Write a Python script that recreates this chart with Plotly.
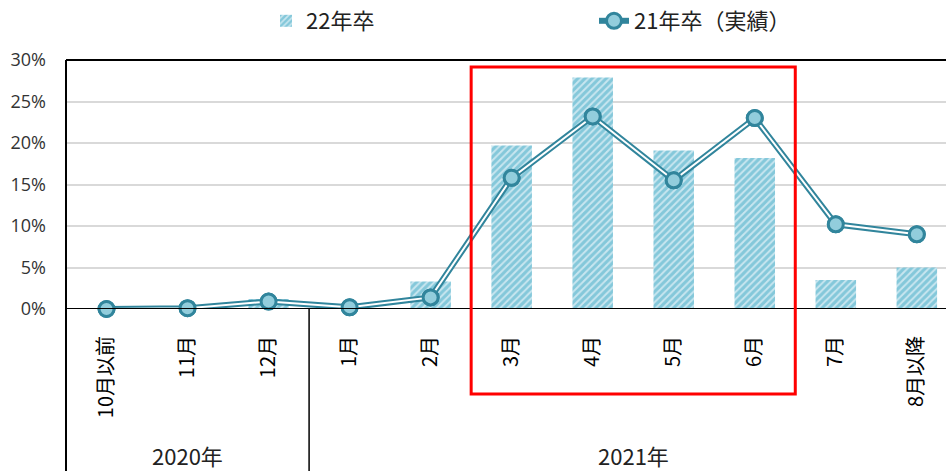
import plotly.graph_objects as go

categories = ["10月以前", "11月", "12月", "1月", "2月", "3月", "4月", "5月", "6月", "7月", "8月以降"]
grad22 = [0.001, 0.0, 0.012, 0.001, 0.033, 0.197, 0.279, 0.191, 0.182, 0.035, 0.050]
grad21 = [0.000, 0.001, 0.009, 0.002, 0.014, 0.158, 0.232, 0.155, 0.230, 0.102, 0.090]
year_labels = ["2020年", "2021年"]
year_centers = [1, 6.5]
highlight = [4.5, 8.5]
year_split = 2.5

TEAL = "#31859C"
FILL = "#92CDDC"
JP = "Noto Sans CJK JP"

fig = go.Figure()
fig.add_trace(go.Bar(
    x=categories, y=grad22, name="22年卒", width=0.5,
    marker=dict(color="#3FA9C5", line=dict(width=0),
                pattern=dict(shape="/", size=5, solidity=0.6,
                             fgcolor="#3FA9C5", bgcolor="#C8E6EF")),
))
fig.add_trace(go.Scatter(
    x=categories, y=grad21, name="21年卒（実績）", mode="lines+markers",
    line=dict(color=TEAL, width=6),
    marker=dict(size=15, color=FILL, line=dict(color=TEAL, width=3)),
    cliponaxis=False,
))
fig.add_trace(go.Scatter(
    x=categories, y=grad21, mode="lines", showlegend=False, hoverinfo="skip",
    line=dict(color="white", width=2), cliponaxis=False,
))
fig.add_trace(go.Scatter(
    x=categories, y=grad21, mode="markers", showlegend=False,
    marker=dict(size=15, color=FILL, line=dict(color=TEAL, width=3)),
    cliponaxis=False,
))

shapes = [
    dict(type="line", xref="paper", yref="paper", x0=0, x1=1, y0=1, y1=1,
         line=dict(color="black", width=2)),
    dict(type="line", xref="paper", yref="paper", x0=0, x1=0, y0=-0.66, y1=1,
         line=dict(color="black", width=2)),
    dict(type="line", xref="paper", yref="y", x0=0, x1=1, y0=0, y1=0,
         line=dict(color="black", width=2)),
    dict(type="line", xref="x", yref="paper", x0=year_split, x1=year_split, y0=-0.66, y1=0,
         line=dict(color="black", width=1.5)),
    dict(type="rect", xref="x", yref="paper", x0=highlight[0], x1=highlight[1],
         y0=(309 - 394) / 249, y1=(309 - 67) / 249,
         line=dict(color="#FF0000", width=3), fillcolor="rgba(0,0,0,0)"),
]

annotations = [
    dict(x=c, y=(309 - 455) / 249, xref="x", yref="paper", text=t, showarrow=False,
         font=dict(family=JP, size=22, color="#222222"), xanchor="center", yanchor="middle")
    for c, t in zip(year_centers, year_labels)
]

fig.update_layout(
    width=946, height=471,
    margin=dict(l=66, r=0, t=60, b=162, autoexpand=False),
    paper_bgcolor="white", plot_bgcolor="white",
    showlegend=True,
    legend=dict(orientation="h", xref="container", yref="container",
                x=266 / 946, y=1.0, xanchor="left", yanchor="top",
                entrywidth=283, entrywidthmode="pixels",
                font=dict(family=JP, size=22, color="#222222"),
                bgcolor="rgba(0,0,0,0)"),
    shapes=shapes,
    annotations=annotations,
    bargap=0.5,
)
fig.update_xaxes(
    type="category", categoryorder="array", categoryarray=categories,
    range=[-0.5, 10.36], showgrid=False, showline=False, zeroline=False,
    tickangle=-90, ticks="", ticklabelstandoff=22, automargin=False,
    tickfont=dict(family=JP, size=20, color="black"),
)
fig.update_yaxes(
    range=[0, 0.30], dtick=0.05, tickformat=".0%",
    showgrid=True, gridcolor="#D9D9D9", gridwidth=2,
    zeroline=False, showline=False, ticks="", ticklabelstandoff=19, automargin=False,
    tickfont=dict(family="Open Sans", size=18, color="#333333"),
)

fig.write_html("out.html", config={"displayModeBar": False},
               post_script="document.body.style.margin='0';document.body.style.overflow='hidden';")
